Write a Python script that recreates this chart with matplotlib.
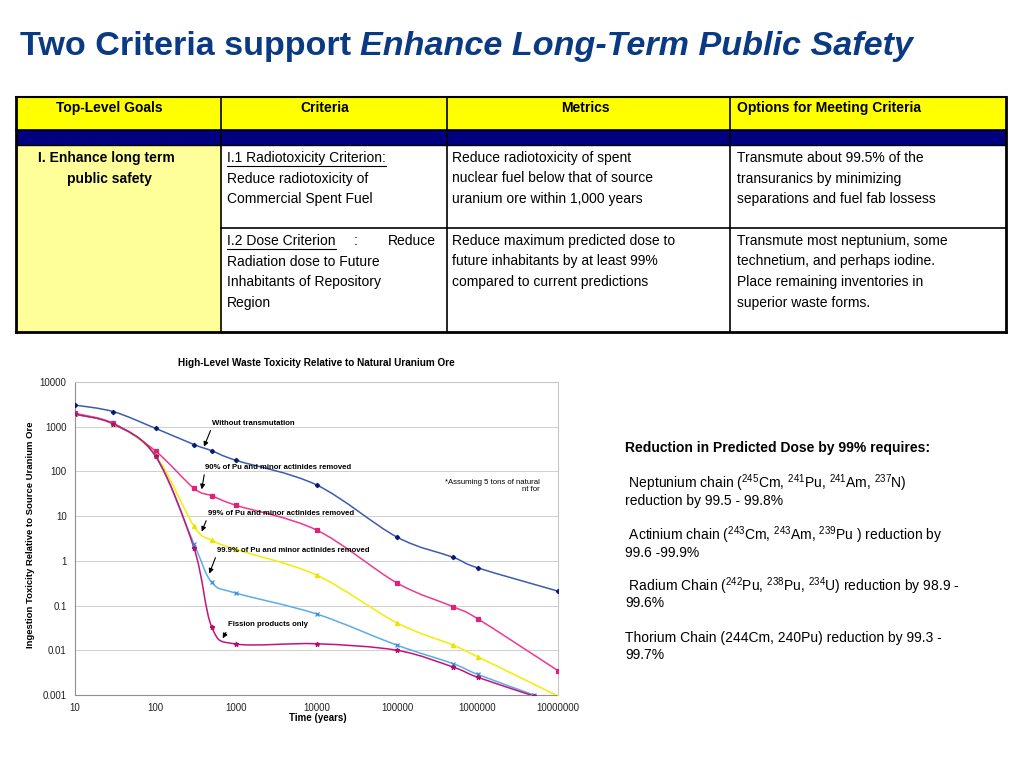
import numpy as np
import matplotlib
matplotlib.use("Agg")
import matplotlib.pyplot as plt
from matplotlib.path import Path
from matplotlib.patches import PathPatch, Rectangle

plt.rcParams['font.family'] = ['Liberation Sans', 'DejaVu Sans']
plt.rcParams['mathtext.fontset'] = 'custom'
plt.rcParams['mathtext.rm'] = 'Liberation Sans'
plt.rcParams['mathtext.default'] = 'regular'

# ---- chart data ----
years = [10, 30, 100, 300, 500, 1000, 1e4, 1e5, 5e5, 1e6, 1e7]
years_short = [10, 30, 100, 300, 500, 1000, 1e4, 1e5, 5e5, 1e6, 5e6]
no_transmutation = [3050, 2170, 920, 400, 290, 177, 50, 3.4, 1.2, 0.7, 0.21]
removed_90 = [2000, 1190, 286, 42, 28.6, 17.5, 4.9, 0.32, 0.094, 0.051, 0.0035]
removed_99 = [1900, 1150, 230, 6.0, 2.9, 1.8, 0.48, 0.041, 0.013, 0.0072, 0.00095]
removed_999 = [1900, 1150, 220, 2.4, 0.33, 0.19, 0.065, 0.013, 0.005, 0.0029, 0.001]
fission_only = [1900, 1150, 220, 1.96, 0.033, 0.0138, 0.014, 0.010, 0.0042, 0.0025, 0.00095]

y_ticks = [0.001, 0.01, 0.1, 1, 10, 100, 1000, 10000]
y_ticklabels = ['0.001', '0.01', '0.1', '1', '10', '100', '1000', '10000']
x_ticks = [10, 100, 1000, 1e4, 1e5, 1e6, 1e7]
x_ticklabels = ['10', '100', '1000', '10000', '100000', '1000000', '10000000']

# ---- table text ----
headers = ['Top-Level Goals', 'Criteria', 'Metrics', 'Options for Meeting Criteria']
goal_lines = ['I. Enhance long term', 'public safety']
crit1_lines = ['Reduce radiotoxicity of', 'Commercial Spent Fuel']
crit2_lines = ['Radiation dose to Future', 'Inhabitants of Repository', 'Region']
metric1_lines = ['Reduce radiotoxicity of spent', 'nuclear fuel below that of source',
                 'uranium ore within 1,000 years']
metric2_lines = ['Reduce maximum predicted dose to', 'future inhabitants by at least 99%',
                 'compared to current predictions']
option1_lines = ['Transmute about 99.5% of the', 'transuranics by minimizing',
                 'separations and fuel fab lossess']
option2_lines = ['Transmute most neptunium, some', 'technetium, and perhaps iodine.',
                 'Place remaining inventories in', 'superior waste forms.']

side_lines = [
    (r'Reduction in Predicted Dose by 99% requires:', 'bold'),
    (r' Neptunium chain ($^{245}$Cm, $^{241}$Pu, $^{241}$Am, $^{237}$N)', 'normal'),
    ('reduction by 99.5 - 99.8%', 'normal'),
    (r' Actinium chain ($^{243}$Cm, $^{243}$Am, $^{239}$Pu ) reduction by', 'normal'),
    ('99.6 -99.9%', 'normal'),
    (r' Radium Chain ($^{242}$Pu, $^{238}$Pu, $^{234}$U) reduction by 98.9 -', 'normal'),
    ('99.6%', 'normal'),
    ('Thorium Chain (244Cm, 240Pu) reduction by 99.3 -', 'normal'),
    ('99.7%', 'normal'),
]
side_y = [448, 483, 501, 535, 553, 586, 603, 638, 655]


def smooth_path(t, v):
    # Excel-like smoothed line: Catmull-Rom in log-log space, drawn as Bezier
    x = np.log10(t)
    y = np.log10(v)
    n = len(x)
    verts = [(x[0], y[0])]
    codes = [Path.MOVETO]
    for i in range(n - 1):
        xa, ya = (x[i - 1], y[i - 1]) if i > 0 else (x[i], y[i])
        xb, yb = (x[i + 2], y[i + 2]) if i + 2 < n else (x[i + 1], y[i + 1])
        c1 = (x[i] + (x[i + 1] - xa) / 6, y[i] + (y[i + 1] - ya) / 6)
        c2 = (x[i + 1] - (xb - x[i]) / 6, y[i + 1] - (yb - y[i]) / 6)
        verts += [c1, c2, (x[i + 1], y[i + 1])]
        codes += [Path.CURVE4] * 3
    return Path(10 ** np.array(verts), codes)


fig = plt.figure(figsize=(10.24, 7.68), dpi=100)
bg = fig.add_axes([0, 0, 1, 1])
bg.set_xlim(0, 1024)
bg.set_ylim(768, 0)
bg.axis('off')

# title
title_color = '#0B3A84'
t1 = bg.text(20, 55, 'Two Criteria support', fontsize=24.6, fontweight='bold',
             color=title_color, va='baseline')
renderer = fig.canvas.get_renderer()
bb = t1.get_window_extent(renderer=renderer)
x_end = bg.transData.inverted().transform((bb.x1, bb.y0))[0]
bg.text(x_end + 9, 55, 'Enhance Long-Term Public Safety', fontsize=24.6, fontweight='bold',
        style='italic', color=title_color, va='baseline')

# table
col_x = [16, 221, 447, 730, 1006]
bg.add_patch(Rectangle((16, 97), 990, 33, facecolor='#FFFF00', edgecolor='none'))
bg.add_patch(Rectangle((16, 130), 990, 15, facecolor='#000080', edgecolor='none'))
bg.add_patch(Rectangle((16, 145), 205, 187, facecolor='#FFFF99', edgecolor='none'))
for cx in col_x:
    lw = 2 if cx in (16, 1006) else 1.2
    bg.plot([cx, cx], [97, 332], color='black', lw=lw)
bg.plot([16, 1006], [97, 97], color='black', lw=1.5)
bg.plot([16, 1006], [130, 130], color='black', lw=1.2)
bg.plot([16, 1006], [145, 145], color='black', lw=1.0)
bg.plot([221, 1006], [228, 228], color='black', lw=1.2)
bg.plot([16, 1006], [332, 332], color='black', lw=2)

fs = 10
bg.text(109, 108, headers[0], fontsize=fs, fontweight='bold', ha='center', va='center')
bg.text(325, 108, headers[1], fontsize=fs, fontweight='bold', ha='center', va='center')
bg.text(585, 108, headers[2], fontsize=fs, fontweight='bold', ha='center', va='center')
bg.text(737, 108, headers[3], fontsize=fs, fontweight='bold', ha='left', va='center')

row1_y = [158, 178.5, 199]
row2_y = [241, 261.5, 282, 302.5]
bg.text(106, row1_y[0], goal_lines[0], fontsize=fs, fontweight='bold', ha='center', va='center')
bg.text(109, row1_y[1], goal_lines[1], fontsize=fs, fontweight='bold', ha='center', va='center')

u1 = bg.text(227, row1_y[0], 'I.1 Radiotoxicity Criterion:', fontsize=fs, va='center')
for yy, s in zip(row1_y[1:], crit1_lines):
    bg.text(227, yy, s, fontsize=fs, va='center')
u2 = bg.text(227, row2_y[0], 'I.2 Dose Criterion', fontsize=fs, va='center')
bg.text(354, row2_y[0], ':', fontsize=fs, va='center')
bg.text(436, row2_y[0], 'Reduce', fontsize=fs, va='center', ha='right')
for yy, s in zip(row2_y[1:], crit2_lines):
    bg.text(227, yy, s, fontsize=fs, va='center')
for t, yy in ((u1, row1_y[0]), (u2, row2_y[0])):
    b = t.get_window_extent(renderer=renderer)
    xa = bg.transData.inverted().transform((b.x0, b.y0))[0]
    xb = bg.transData.inverted().transform((b.x1, b.y0))[0]
    bg.plot([xa, xb], [yy + 7.5, yy + 7.5], color='black', lw=0.8)

for yy, s in zip(row1_y, metric1_lines):
    bg.text(452, yy, s, fontsize=fs, va='center')
for yy, s in zip(row2_y, metric2_lines):
    bg.text(452, yy, s, fontsize=fs, va='center')
for yy, s in zip(row1_y, option1_lines):
    bg.text(737, yy, s, fontsize=fs, va='center')
for yy, s in zip(row2_y, option2_lines):
    bg.text(737, yy, s, fontsize=fs, va='center')

# side text
for (s, w), yy in zip(side_lines, side_y):
    bg.text(625, yy, s, fontsize=10, fontweight=w, va='center')

# chart
ax = fig.add_axes([75 / 1024, 1 - 695 / 768, 483 / 1024, 313 / 768])
ax.set_xscale('log')
ax.set_yscale('log')
ax.set_xlim(10, 1e7)
ax.set_ylim(0.001, 10000)

series = [
    (years, no_transmutation, '#3A5DAE', '#0A1A70', 'D', 2.2),
    (years, removed_90, '#EC3A8C', '#E0207A', 's', 2.8),
    (years, removed_99, '#F2EE00', '#E8E400', '^', 3.0),
    (years_short, removed_999, '#5AAEE8', '#3A90D8', 'x', 3.0),
    (years_short, fission_only, '#C4147C', '#B0106E', '*', 3.5),
]
for t, v, lc, mc, mk, ms in series:
    ax.add_patch(PathPatch(smooth_path(t, v), facecolor='none', edgecolor=lc, lw=1.1, zorder=3))
    ax.plot(t, v, linestyle='none', marker=mk, color=mc, ms=ms, mew=0.9, zorder=4)

ax.minorticks_off()
ax.set_yticks(y_ticks)
ax.set_yticklabels(y_ticklabels)
ax.set_xticks(x_ticks)
ax.set_xticklabels(x_ticklabels)
ax.tick_params(labelsize=7, length=0, pad=6, colors='#222222')
ax.grid(axis='y', color='#D0D0D0', lw=0.7)
ax.grid(axis='x', visible=False)
for side in ('left', 'bottom'):
    ax.spines[side].set_color('#909090')
for side in ('top', 'right'):
    ax.spines[side].set_color('#C8C8C8')

ax.text(0.5, 1.061, 'High-Level Waste Toxicity Relative to Natural Uranium Ore',
        transform=ax.transAxes, ha='center', va='center', fontsize=7.2, fontweight='bold')
ax.text(-0.093, 0.511, 'Ingestion Toxicity Relative to Source Uranium Ore', transform=ax.transAxes,
        rotation=90, ha='center', va='center', fontsize=6.8, fontweight='bold')
ax.text(0.503, -0.073, 'Time (years)', transform=ax.transAxes, ha='center', va='center',
        fontsize=7, fontweight='bold')

notes = [
    ('Without transmutation', (400, 357), (0.284, 0.869)),
    ('90% of Pu and minor actinides removed', (375, 39.8), (0.269, 0.728)),
    ('99% of Pu and minor actinides removed', (375, 4.5), (0.275, 0.581)),
    ('99.9% of Pu and minor actinides removed', (466, 0.52), (0.294, 0.463)),
    ('Fission products only', (684, 0.0185), (0.317, 0.224)),
]
for s, tip, pos in notes:
    ax.annotate(s, xy=tip, xytext=pos, textcoords='axes fraction', fontsize=5.6,
                fontweight='bold', va='center', ha='left', zorder=5,
                arrowprops=dict(arrowstyle='-|>', color='black', lw=0.8, mutation_scale=7,
                                shrinkA=1, shrinkB=0, relpos=(0.0, 0.0)))
ax.text(0.766, 0.68, '*Assuming 5 tons of natural', transform=ax.transAxes, fontsize=5.6,
        va='center', ha='left')
ax.text(0.963, 0.655, 'nt for', transform=ax.transAxes, fontsize=5.6, va='center', ha='right')

fig.savefig('out.png', dpi=100)
